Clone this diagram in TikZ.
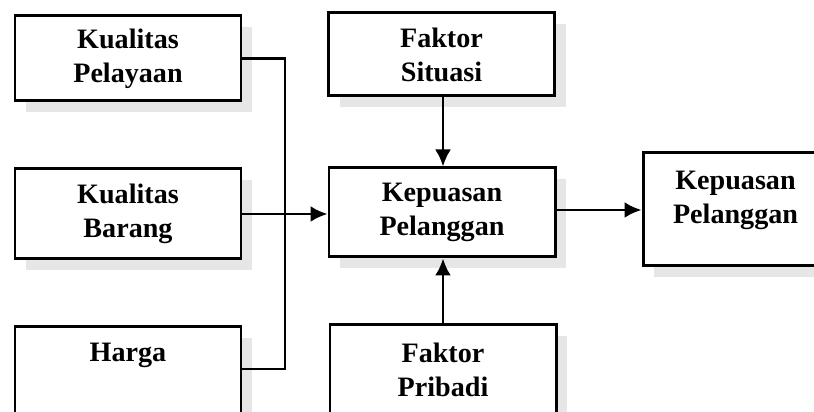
\documentclass[tikz,border=0pt]{standalone}
\usepackage{fontspec}
\setmainfont{Liberation Serif}
\usepackage{tikz}
\usetikzlibrary{calc}
\usetikzlibrary{shadows}
\usetikzlibrary{arrows.meta}
\usetikzlibrary{positioning}
\definecolor{shadowgray}{RGB}{200, 200, 200}
\tikzset{
    factorbox/.style={draw=black, line width=1.7pt, fill=white, minimum width=4.52cm,
                      minimum height=1.80cm, align=center, inner sep=0pt,
                      font=\bfseries\fontsize{16}{19.4}\selectfont,
                      drop shadow={shadow xshift=0.22cm, shadow yshift=-0.22cm, fill=shadowgray, opacity=0.45}},
    boxtext/.style={align=center, inner sep=0pt, font=\bfseries\fontsize{16}{19.4}\selectfont},
    link/.style={line width=1.6pt},
    arrowlink/.style={line width=1.6pt, -{Latex[length=0.34cm, width=0.32cm]}}
}

\begin{document}
\begin{tikzpicture}
            % Frame to ensure alignment:
            \useasboundingbox                                                 ( 0.00, 0.00) rectangle (16.28, 8.24);
            \clip                                                             ( 0.00, 0.00) rectangle (16.28, 8.24);
            % Input factors
            \node[factorbox, minimum height=1.70cm] (pelayanan) at ( 2.56, 7.07) {Kualitas\\Pelayaan};
            \node[factorbox]                        (barang)    at ( 2.56, 3.96) {Kualitas\\Barang};
            \node[factorbox]                        (harga)     at ( 2.56, 0.80) {};
            \node[boxtext]                          (hargatxt)  at ( 2.56, 1.14) {Harga};
            % Side factors
            \node[factorbox, minimum height=1.66cm] (situasi)   at ( 8.83, 7.15) {Faktor\\Situasi};
            \node[factorbox]                        (pribadi)   at ( 8.86, 0.84) {Faktor\\Pribadi};
            % Centre and result
            \node[factorbox, minimum height=1.78cm] (kepuasan)  at ( 8.84, 3.99) {Kepuasan\\Pelanggan};
            \node[factorbox, minimum width=3.70cm,
                  minimum height=2.26cm]            (hasil)     at (14.71, 4.05) {};
            \node[boxtext]                          (hasiltxt)  at (14.71, 4.24) {Kepuasan\\Pelanggan};
            % Collecting line
            \coordinate (bus) at ( 5.70, 3.96);
            \draw[link]      (pelayanan.east) -| (bus) |- (harga.east |- 0, 0.86);
            \draw[arrowlink] (barang.east) -- (barang.east -| kepuasan.west);
            % Side arrows
            \draw[arrowlink] (situasi.south -| 8.86, 0) -- (kepuasan.north -| 8.86, 0);
            \draw[arrowlink] (pribadi.north) -- (pribadi.north |- kepuasan.south);
            % Result arrow
            \draw[arrowlink] (kepuasan.east |- 0, 4.04) -- (hasil.west |- 0, 4.04);
        \end{tikzpicture}
\end{document}
